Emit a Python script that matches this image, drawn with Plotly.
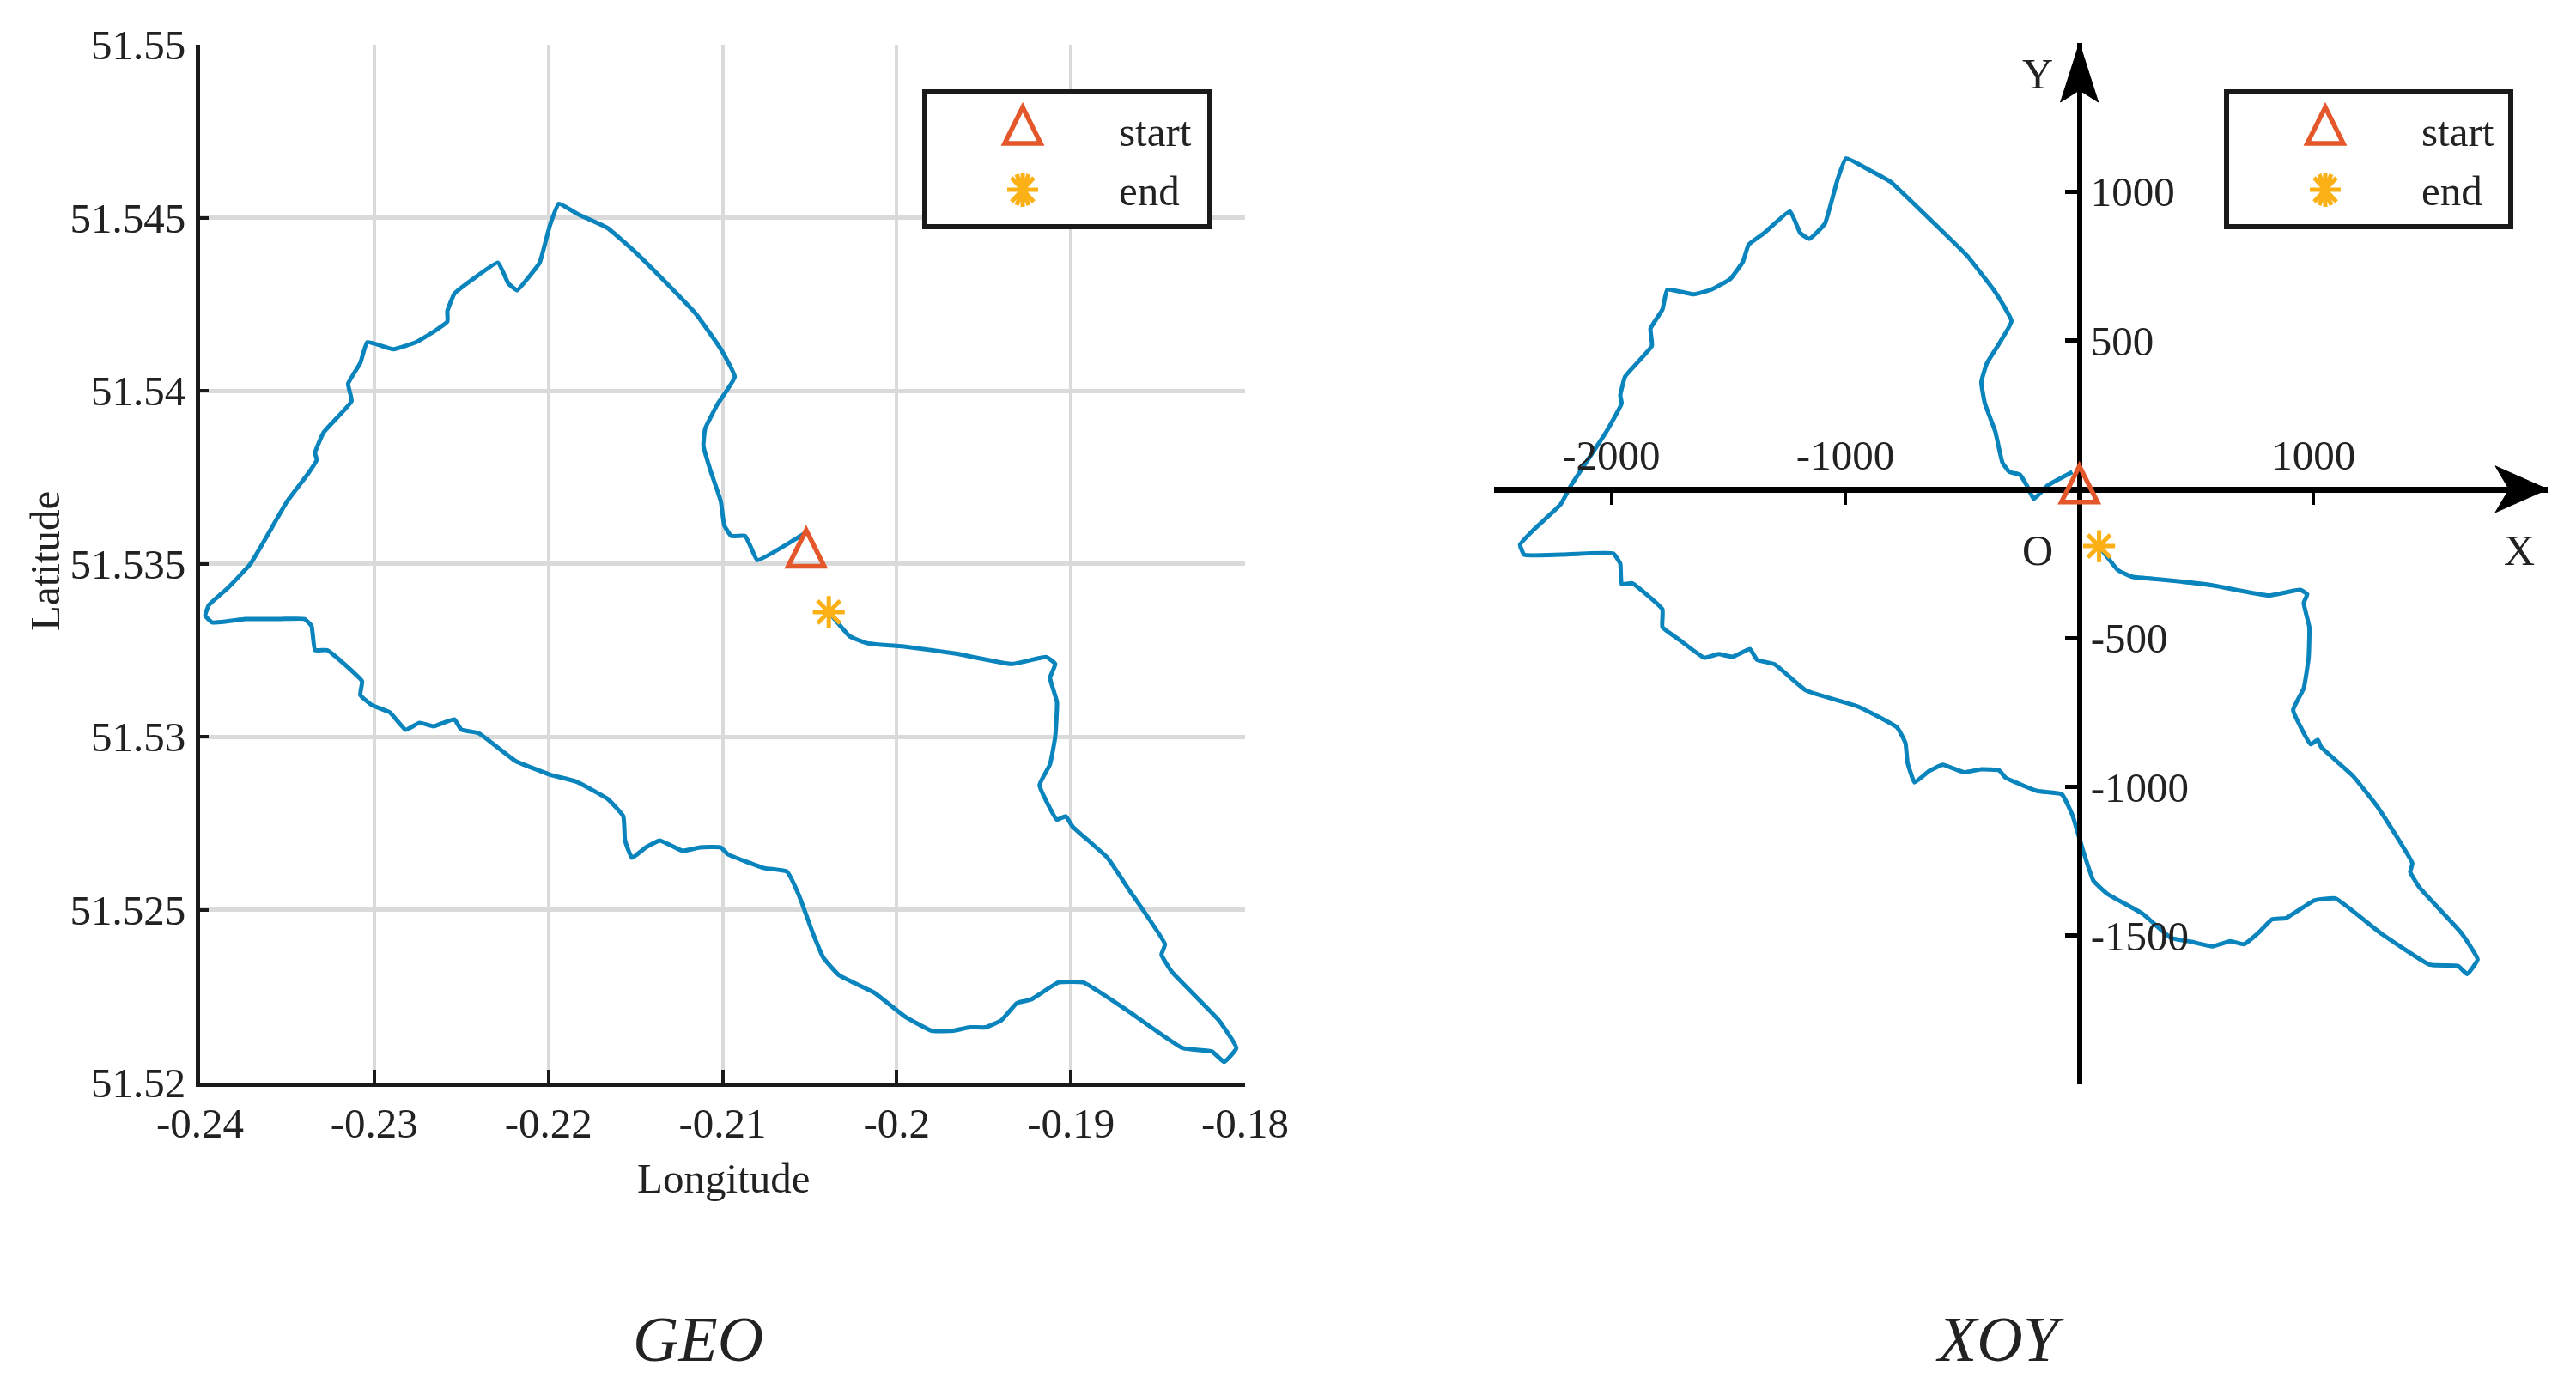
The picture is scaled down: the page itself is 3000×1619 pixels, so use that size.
import plotly.graph_objects as go

W, H = 3000, 1619
FONT = "Liberation Serif"
BLUE, RED, YEL, INK = "#0A84BC", "#E4572A", "#FBB116", "#1A1A1A"

# ---------- data: GEO panel ----------
geo_lon = [-0.2052,-0.2080,-0.2084,-0.2087,-0.2095,-0.2099,-0.2101,-0.2107,-0.2111,-0.2110,-0.2103,-0.2093,-0.2101,-0.2115,-0.2134,-0.2150,-0.2166,-0.2183,-0.2194,-0.2199,-0.2205,-0.2211,-0.2218,-0.2223,-0.2229,-0.2244,-0.2254,-0.2258,-0.2258,-0.2266,-0.2276,-0.2289,-0.2304,-0.2308,-0.2315,-0.2313,-0.2329,-0.2334,-0.2333,-0.2338,-0.2350,-0.2371,-0.2384,-0.2395,-0.2397,-0.2393,-0.2374,-0.2354,-0.2340,-0.2336,-0.2334,-0.2327,-0.2315,-0.2307,-0.2308,-0.2301,-0.2291,-0.2282,-0.2274,-0.2266,-0.2254,-0.2250,-0.2240,-0.2219,-0.2199,-0.2184,-0.2166,-0.2157,-0.2156,-0.2152,-0.2144,-0.2136,-0.2123,-0.2113,-0.2101,-0.2097,-0.2076,-0.2063,-0.2056,-0.2048,-0.2042,-0.2033,-0.2013,-0.1995,-0.1980,-0.1968,-0.1958,-0.1949,-0.1940,-0.1931,-0.1923,-0.1907,-0.1893,-0.1868,-0.1836,-0.1819,-0.1812,-0.1805,-0.1815,-0.1842,-0.1848,-0.1846,-0.1867,-0.1879,-0.1899,-0.1903,-0.1908,-0.1918,-0.1912,-0.1909,-0.1908,-0.1912,-0.1909,-0.1914,-0.1934,-0.1966,-0.1995,-0.2017,-0.2027,-0.2039]
geo_lat = [51.5359,51.5351,51.5355,51.5358,51.5358,51.5361,51.5368,51.5377,51.5384,51.5389,51.5396,51.5404,51.5412,51.5422,51.5432,51.5440,51.5447,51.5451,51.5454,51.5448,51.5437,51.5433,51.5429,51.5431,51.5437,51.5432,51.5428,51.5423,51.5420,51.5417,51.5414,51.5412,51.5414,51.5408,51.5402,51.5397,51.5388,51.5382,51.5380,51.5376,51.5368,51.5350,51.5343,51.5338,51.5335,51.5333,51.5334,51.5334,51.5334,51.5332,51.5325,51.5325,51.5320,51.5316,51.5312,51.5309,51.5307,51.5302,51.5304,51.5303,51.5305,51.5302,51.5301,51.5293,51.5289,51.5287,51.5282,51.5277,51.5270,51.5265,51.5268,51.5270,51.5267,51.5268,51.5268,51.5266,51.5262,51.5261,51.5254,51.5243,51.5236,51.5231,51.5226,51.5219,51.5215,51.5215,51.5216,51.5216,51.5218,51.5223,51.5224,51.5229,51.5229,51.5221,51.5210,51.5209,51.5206,51.5210,51.5218,51.5232,51.5237,51.5240,51.5256,51.5265,51.5274,51.5277,51.5276,51.5286,51.5292,51.5300,51.5310,51.5317,51.5321,51.5323,51.5321,51.5324,51.5326,51.5327,51.5329,51.5336]
geo_start = (-0.2052, 51.5353)
geo_end = (-0.2039, 51.5336)
geo_xticks = [-0.24,-0.23,-0.22,-0.21,-0.2,-0.19,-0.18]
geo_xlabels = ["-0.24","-0.23","-0.22","-0.21","-0.2","-0.19","-0.18"]
geo_yticks = [51.52,51.525,51.53,51.535,51.54,51.545,51.55]
geo_ylabels = ["51.52","51.525","51.53","51.535","51.54","51.545","51.55"]

# ---------- data: XOY panel ----------
xoy_x = [-30,-135,-195,-225,-254,-299,-329,-359,-404,-419,-395,-344,-290,-359,-479,-629,-808,-898,-997,-1033,-1087,-1153,-1192,-1236,-1347,-1413,-1437,-1491,-1572,-1647,-1760,-1781,-1832,-1826,-1940,-1961,-1955,-2021,-2171,-2216,-2320,-2389,-2371,-2216,-1991,-1961,-1955,-1910,-1781,-1781,-1707,-1602,-1542,-1482,-1407,-1377,-1302,-1168,-943,-778,-743,-734,-704,-644,-584,-494,-419,-344,-314,-180,-75,-30,15,60,120,269,389,479,569,644,703,763,823,883,1003,1093,1287,1497,1617,1656,1701,1632,1452,1413,1422,1272,1168,1033,1018,988,913,958,979,982,958,973,943,808,569,359,225,165,90]
xoy_y = [58,13,-32,13,49,58,90,193,289,360,424,488,565,662,784,900,1034,1073,1112,1041,893,842,861,934,861,822,765,707,671,655,671,604,540,482,379,315,289,193,13,-51,-128,-186,-220,-220,-216,-250,-319,-316,-404,-463,-507,-566,-554,-563,-537,-573,-588,-676,-731,-801,-853,-919,-985,-948,-926,-951,-941,-944,-970,-1014,-1025,-1095,-1213,-1316,-1360,-1426,-1507,-1521,-1536,-1519,-1529,-1492,-1445,-1441,-1382,-1375,-1492,-1598,-1602,-1629,-1580,-1492,-1338,-1286,-1257,-1066,-963,-867,-842,-857,-742,-669,-566,-463,-382,-353,-338,-357,-323,-304,-294,-272,-198]
xoy_start = (0, 0)
xoy_end = (84, -191)
xoy_xticks = [-2000,-1000,1000,2000]
xoy_xlabels = ["-2000","-1000","1000",""]
xoy_yticks = [-2000,-1500,-1000,-500,500,1000,1500]
xoy_ylabels = ["","-1500","-1000","-500","500","1000",""]

legend_names = ["start", "end"]
panel_titles = ["GEO", "XOY"]

# ---------- helpers (layout only) ----------
def fx(px): return px / W
def fy(py): return 1 - py / H

TRI = "M-21,-15 L21,-15 L0,27 Z"
STAR = ("M-18,0 H18 M0,-20 V20 M-13,-14 L13,14 M-13,14 L13,-14 "
        "M-7,-18 L7,18 M-7,18 L7,-18")
ARROW_X = "M0,0 L-61,27 L-45,0 L-61,-27 Z"
ARROW_Y = "M0,0 L-22,-69 L0,-55 L22,-69 Z"

def tri_shape(xref, yref, xa, ya):
    return dict(type="path", xref=xref, yref=yref, xsizemode="pixel", ysizemode="pixel",
                xanchor=xa, yanchor=ya, path=TRI, line=dict(color=RED, width=5.5),
                fillcolor="rgba(0,0,0,0)", layer="above")

def star_shape(xa, ya):
    return dict(type="path", xref="paper", yref="paper", xsizemode="pixel", ysizemode="pixel",
                xanchor=xa, yanchor=ya, path=STAR, line=dict(color=YEL, width=5), layer="above")

def arrow_shape(xa, ya, path):
    return dict(type="path", xref="x2", yref="y2", xsizemode="pixel", ysizemode="pixel",
                xanchor=xa, yanchor=ya, path=path, line=dict(color="black", width=1),
                fillcolor="black", layer="above")

def note(text, px, py, size=48, anchor="center", **kw):
    return dict(text=text, x=fx(px), y=fy(py), xref="paper", yref="paper", showarrow=False,
                xanchor=anchor, yanchor="middle", font=dict(family=FONT, size=size, color="#222"), **kw)

CURVE = dict(color=BLUE, width=5, shape="spline", smoothing=0.35)
END_MARK = dict(symbol="asterisk-open", size=31, color=YEL, line=dict(color=YEL, width=5))

fig = go.Figure()
fig.add_trace(go.Scatter(x=geo_lon, y=geo_lat, xaxis="x", yaxis="y", mode="lines", line=CURVE,
                         name="trajectory", showlegend=False))
fig.add_trace(go.Scatter(x=[geo_end[0]], y=[geo_end[1]], xaxis="x", yaxis="y", mode="markers",
                         showlegend=False, name="end", marker=END_MARK))
fig.add_trace(go.Scatter(x=xoy_x, y=xoy_y, xaxis="x2", yaxis="y2", mode="lines", line=CURVE,
                         name="trajectory", showlegend=False))
fig.add_trace(go.Scatter(x=[xoy_end[0]], y=[xoy_end[1]], xaxis="x2", yaxis="y2", mode="markers",
                         showlegend=False, name="end", marker=END_MARK))

tick_font = dict(family=FONT, size=49, color="#222")
shapes = [tri_shape("x", "y", *geo_start), tri_shape("x2", "y2", *xoy_start),
          arrow_shape(2000, 0, ARROW_X), arrow_shape(0, 1500, ARROW_Y)]
annotations = [
    note("Longitude", 842, 1372, size=49),
    note("Latitude", 52, 654, size=49, textangle=-90),
    note("<i>%s</i>" % panel_titles[0], 813, 1560, size=74),
    note("<i>%s</i>" % panel_titles[1], 2329, 1560, size=74),
    note("O", 2373, 641, size=50), note("X", 2934, 641, size=50), note("Y", 2373, 86, size=50),
]
for (x0, x1, tri_x, text_x) in [(1077, 1409, 1191, 1301), (2593, 2924, 2708, 2818)]:
    shapes.append(dict(type="rect", xref="paper", yref="paper", x0=fx(x0), x1=fx(x1), y0=fy(107), y1=fy(264),
                       line=dict(color=INK, width=6), fillcolor="white", layer="above"))
    shapes.append(tri_shape("paper", "paper", fx(tri_x), fy(152)))
    shapes.append(star_shape(fx(tri_x), fy(221)))
    annotations.append(note(legend_names[0], text_x, 154, size=49, anchor="left"))
    annotations.append(note(legend_names[1], text_x, 222, size=49, anchor="left"))

fig.update_layout(
    width=W, height=H, margin=dict(l=0, r=0, t=0, b=0), paper_bgcolor="white", plot_bgcolor="white",
    showlegend=False, shapes=shapes, annotations=annotations,
    xaxis=dict(domain=[fx(233), fx(1450)], anchor="y", range=[-0.24, -0.18], tickvals=geo_xticks, ticktext=geo_xlabels,
               automargin=False, showgrid=True, gridcolor="#DADADA", gridwidth=4, zeroline=False, showline=True,
               linecolor=INK, linewidth=5, ticks="inside", ticklen=15, tickwidth=4, tickcolor=INK, tickfont=tick_font,
               ticklabelstandoff=0),
    yaxis=dict(domain=[fy(1261), fy(52)], anchor="x", range=[51.52, 51.55], tickvals=geo_yticks, ticktext=geo_ylabels,
               automargin=False, showgrid=True, gridcolor="#DADADA", gridwidth=5, zeroline=False, showline=True,
               linecolor=INK, linewidth=5, ticks="inside", ticklen=10, tickwidth=4, tickcolor=INK, tickfont=tick_font,
               ticklabelstandoff=2),
    xaxis2=dict(domain=[fx(1740), fx(2967)], anchor="free", position=fy(570), side="top",
                range=[-2500, 2000], tickvals=xoy_xticks, ticktext=xoy_xlabels, showgrid=False, zeroline=False,
                automargin=False, showline=True, linecolor="black", linewidth=7, ticks="inside", ticklen=14, tickwidth=3,
                tickcolor="black", tickfont=tick_font),
    yaxis2=dict(domain=[fy(1263), fy(50)], anchor="free", position=fx(2422), side="right",
                range=[-2000, 1500], tickvals=xoy_yticks, ticktext=xoy_ylabels, showgrid=False, zeroline=False,
                automargin=False, showline=True, linecolor="black", linewidth=6, ticks="inside", ticklen=14, tickwidth=5,
                tickcolor="black", tickfont=tick_font),
)

fig.write_html("out.html", config=dict(displayModeBar=False), post_script="document.body.style.margin='0';")
